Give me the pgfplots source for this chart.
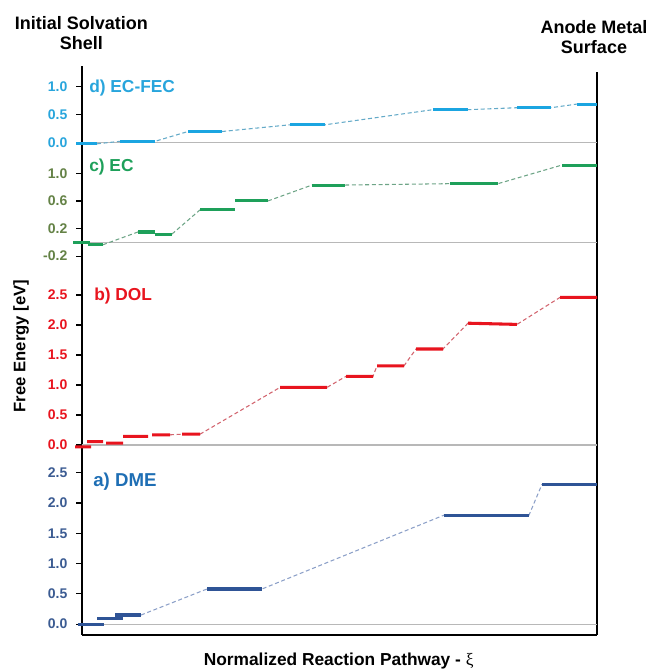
\documentclass[border=0pt]{standalone}
\usepackage{pgfplots}
\pgfplotsset{compat=1.18}
\usepackage{fontspec}
\setmainfont{Liberation Sans}
\newfontfamily\seriffont{Liberation Serif}

\definecolor{dmeSeg}{RGB}{47,84,150}
\definecolor{dmeTick}{RGB}{59,91,146}
\definecolor{dmeTitle}{RGB}{30,110,180}
\definecolor{dmeConn}{RGB}{140,160,200}
\definecolor{dolSeg}{RGB}{232,20,30}
\definecolor{dolConn}{RGB}{210,100,110}
\definecolor{ecSeg}{RGB}{30,160,90}
\definecolor{ecTick}{RGB}{100,130,70}
\definecolor{ecConn}{RGB}{110,165,135}
\definecolor{fecSeg}{RGB}{27,165,225}
\definecolor{fecTick}{RGB}{40,165,220}
\definecolor{fecConn}{RGB}{100,170,200}

\tikzset{
  seg/.style={line width=2.3pt, line cap=butt},
  conn/.style={line width=0.8pt, dash pattern=on 3pt off 2pt},
  base/.style={line width=0.8pt, black!28},
  ptitle/.style={anchor=west, inner sep=0pt, font=\bfseries\fontsize{13}{15}\selectfont},
}

\pgfplotsset{
  panel/.style={
    scale only axis, width=386.25pt, anchor=south west,
    xmin=82, xmax=597, clip=false, unbounded coords=jump,
    axis x line=none, axis y line=left,
    axis line style={-, line width=1.8pt, black},
    tick align=outside, major tick length=4.5pt,
    ytick style={black, line width=0.9pt},
    xtick=\empty,
    yticklabel style={font=\bfseries\fontsize{10.5}{12}\selectfont, xshift=-3pt},
    /pgf/number format/assume math mode=true,
    /pgf/number format/fixed, /pgf/number format/fixed zerofill,
    /pgf/number format/precision=1,
  },
}

\begin{document}
\begin{tikzpicture}
\useasboundingbox (0,0) rectangle (488.25pt,502.5pt);

% frame: bottom and right lines
\begin{axis}[scale only axis, width=386.25pt, height=422.25pt, anchor=south west,
  at={(61.5pt,26.25pt)}, xmin=0, xmax=1, ymin=0, ymax=1,
  axis x line=bottom, axis y line=right, axis line style={-, line width=1.9pt, black},
  xtick=\empty, ytick=\empty]
\addplot[draw=none] coordinates {(0.5,0.5)};
\end{axis}

% a) DME
\begin{axis}[panel, at={(61.5pt,26.25pt)}, height=138.75pt,
  ymin=-0.18, ymax=2.876, ytick={0,0.5,1,1.5,2,2.5},
  yticklabel style={text=dmeTick}]
\addplot[base] coordinates {(82,0) (597,0)};
\addplot[conn, dmeConn] coordinates {(141,0.15) (207,0.58) (262,0.58) (444,1.80) (529,1.80) (542,2.31)};
\addplot[seg, dmeSeg] coordinates {(78,0) (104,0) (104,nan) (97,0.10) (123,0.10) (123,nan) (115,0.15) (141,0.15) (141,nan)
  (207,0.58) (262,0.58) (262,nan) (444,1.80) (529,1.80) (529,nan) (542,2.31) (597,2.31)};
\node[ptitle, font=\bfseries\fontsize{14}{16}\selectfont, text=dmeTitle] at (axis cs:93,2.35) {a) DME};
\end{axis}

% b) DOL
\begin{axis}[panel, at={(61.5pt,165pt)}, height=141pt,
  ymin=-0.083, ymax=3.05, ytick={0,0.5,1,1.5,2,2.5},
  yticklabel style={text=dolSeg}]
\addplot[base] coordinates {(82,0) (597,0)};
\addplot[conn, dolConn] coordinates {(170,0.17) (182,0.18) (182,nan) (200,0.18) (280,0.96) (327,0.96) (346,1.145) (373,1.145) (377,1.32) (404,1.32) (416,1.60) (443,1.60) (468,2.03) (517,2.01) (560,2.46)};
\addplot[seg, dolSeg] coordinates {(75,-0.03) (91,-0.03) (91,nan) (87,0.055) (103,0.055) (103,nan) (106,0.03) (123,0.03) (123,nan)
  (123,0.145) (148,0.145) (148,nan) (152,0.17) (170,0.17) (170,nan) (182,0.18) (200,0.18) (200,nan)
  (280,0.96) (327,0.96) (327,nan) (346,1.145) (373,1.145) (373,nan) (377,1.32) (404,1.32) (404,nan)
  (416,1.60) (443,1.60) (443,nan) (468,2.03) (517,2.01) (517,nan) (560,2.46) (597,2.46)};
\node[ptitle, text=dolSeg] at (axis cs:94,2.48) {b) DOL};
\end{axis}

% c) EC
\begin{axis}[panel, at={(61.5pt,306pt)}, height=85.5pt,
  ymin=-0.285, ymax=1.367, ytick={-0.2,0.2,0.6,1.0},
  yticklabel style={text=ecTick}]
\addplot[base] coordinates {(82,0) (597,0)};
\addplot[conn, ecConn] coordinates {(103,-0.035) (138,0.15) (138,nan) (172,0.12) (200,0.47) (200,nan) (268,0.60) (312,0.83) (345,0.83) (450,0.85) (498,0.85) (562,1.12)};
\addplot[seg, ecSeg] coordinates {(73,0) (90,0) (90,nan) (88,-0.035) (103,-0.035) (103,nan) (138,0.15) (155,0.15) (155,nan)
  (155,0.12) (172,0.12) (172,nan) (200,0.47) (235,0.47) (235,nan) (235,0.60) (268,0.60) (268,nan)
  (312,0.83) (345,0.83) (345,nan) (450,0.85) (498,0.85) (498,nan) (562,1.12) (597,1.12)};
\node[ptitle, text=ecSeg] at (axis cs:89,1.09) {c) EC};
\end{axis}

% d) EC-FEC
\begin{axis}[panel, at={(61.5pt,390pt)}, height=63pt,
  ymin=-0.13, ymax=1.37, ytick={0,0.5,1.0},
  yticklabel style={text=fecTick}]
\addplot[base] coordinates {(82,0) (597,0)};
\addplot[conn, fecConn] coordinates {(97,-0.02) (120,0.025) (155,0.025) (188,0.20) (222,0.20) (290,0.32) (325,0.32) (433,0.59) (468,0.59) (517,0.625) (551,0.625) (577,0.69)};
\addplot[seg, fecSeg] coordinates {(76,-0.02) (97,-0.02) (97,nan) (120,0.025) (155,0.025) (155,nan) (188,0.20) (222,0.20) (222,nan)
  (290,0.32) (325,0.32) (325,nan) (433,0.59) (468,0.59) (468,nan) (517,0.625) (551,0.625) (551,nan) (577,0.69) (597,0.69)};
\node[ptitle, text=fecTick] at (axis cs:89,0.977) {d) EC-FEC};
\end{axis}

% titles and labels
\node[align=center, font=\bfseries\fontsize{13.5}{15}\selectfont, inner sep=0pt] at (61.1pt,477.7pt) {Initial Solvation\\Shell};
\node[align=center, font=\bfseries\fontsize{13.5}{15}\selectfont, inner sep=0pt] at (445.5pt,474.4pt) {Anode Metal\\Surface};
\node[font=\bfseries\fontsize{13}{15}\selectfont, inner sep=0pt] at (254pt,6.6pt) {Normalized Reaction Pathway - {\seriffont\mdseries ξ}};
\node[rotate=90, font=\bfseries\fontsize{12.5}{14}\selectfont, inner sep=0pt] at (15.75pt,243pt) {Free Energy [eV]};
\end{tikzpicture}
\end{document}
